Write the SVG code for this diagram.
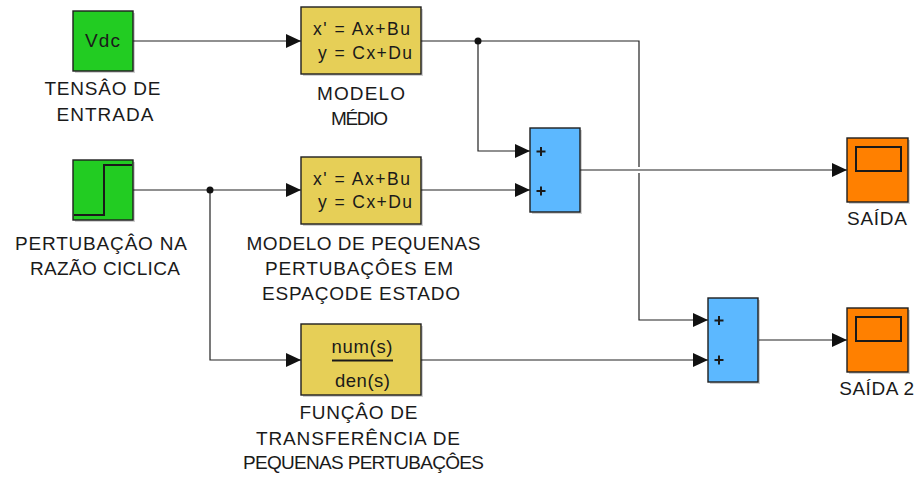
<svg xmlns="http://www.w3.org/2000/svg" width="919" height="477" viewBox="0 0 919 477">
<defs>
<style>
text{font-family:"Liberation Sans",Arial,sans-serif;fill:#1a1a1a;text-anchor:middle}
.lbl{font-size:19px}
.blk{font-size:17.5px}
.sh{fill:#000;opacity:0.18}
.bd{stroke:#1e1e1e;stroke-width:1.4}
.green{fill:#22cc22}
.yellow{fill:#e6cf57}
.blue{fill:#5cb8ff}
.orange{fill:#ff8000}
.wire{fill:none;stroke:#222;stroke-width:1.2}
.arr{marker-end:url(#ah)}
.glyph{fill:none;stroke:#1a1a1a;stroke-width:2}
</style>
<marker id="ah" markerWidth="15" markerHeight="14" refX="15" refY="7" orient="auto" markerUnits="userSpaceOnUse">
<path d="M0,0 L15,7 L0,14 Z" fill="#111"/>
</marker>
</defs>
<rect width="919" height="477" fill="#fff"/>

<g id="connectors">
<path class="wire arr" d="M133,41 H301"/>
<path class="wire" d="M421,41 H639 V167"/>
<path class="wire arr" d="M639,173 V320 H708"/>
<path class="wire arr" d="M478,41 V151 H530"/>
<path class="wire arr" d="M133,190 H301"/>
<path class="wire arr" d="M210,190 V360 H301"/>
<path class="wire arr" d="M421,190 H530"/>
<path class="wire arr" d="M580,170 H847"/>
<path class="wire arr" d="M421,360 H708"/>
<path class="wire arr" d="M759,340 H847"/>
<circle cx="478" cy="41" r="3.5" fill="#111"/>
<circle cx="210" cy="190" r="3.5" fill="#111"/>
</g>

<g id="vdc">
<rect class="sh" x="75" y="13" width="60" height="60"/>
<rect class="green bd" x="73" y="11" width="60" height="60"/>
<text class="lbl" x="102.5" y="47" textLength="35" lengthAdjust="spacing">Vdc</text>
<text class="lbl" x="102.5" y="95" textLength="116" lengthAdjust="spacing">TENSÂO DE</text>
<text class="lbl" x="105" y="120.5" textLength="97" lengthAdjust="spacing">ENTRADA</text>
</g>

<g id="step">
<rect class="sh" x="75" y="162" width="60" height="60"/>
<rect class="green bd" x="73" y="160" width="60" height="60"/>
<path class="glyph" d="M74,215 H104 V165 H132"/>
<text class="lbl" x="101" y="250" textLength="172" lengthAdjust="spacing">PERTUBAÇÂO NA</text>
<text class="lbl" x="105" y="275" textLength="150" lengthAdjust="spacing">RAZÃO CICLICA</text>
</g>

<g id="modelo-medio">
<rect class="sh" x="303" y="9" width="120" height="67"/>
<rect class="yellow bd" x="301" y="7" width="120" height="67"/>
<text class="blk" x="361.5" y="35" textLength="97" lengthAdjust="spacing">x' = Ax+Bu</text>
<text class="blk" x="365" y="58.5" textLength="94" lengthAdjust="spacing">y = Cx+Du</text>
<text class="lbl" x="361" y="100" textLength="88" lengthAdjust="spacing">MODELO</text>
<text class="lbl" x="359.5" y="125" textLength="57" lengthAdjust="spacing">MÉDIO</text>
</g>

<g id="modelo-pequenas">
<rect class="sh" x="303" y="159" width="120" height="67"/>
<rect class="yellow bd" x="301" y="157" width="120" height="67"/>
<text class="blk" x="361.5" y="184.5" textLength="97" lengthAdjust="spacing">x' = Ax+Bu</text>
<text class="blk" x="365" y="208" textLength="94" lengthAdjust="spacing">y = Cx+Du</text>
<text class="lbl" x="363.5" y="249.5" textLength="234" lengthAdjust="spacing">MODELO DE PEQUENAS</text>
<text class="lbl" x="359" y="274.5" textLength="188" lengthAdjust="spacing">PERTUBAÇÔES EM</text>
<text class="lbl" x="361" y="299.5" textLength="198" lengthAdjust="spacing">ESPAÇODE ESTADO</text>
</g>

<g id="funcao-transferencia">
<rect class="sh" x="303" y="326" width="120" height="71"/>
<rect class="yellow bd" x="301" y="324" width="120" height="71"/>
<text class="lbl" x="362" y="353" textLength="61" lengthAdjust="spacing" style="font-size:18.5px">num(s)</text>
<line x1="332" y1="360.5" x2="393" y2="360.5" stroke="#1a1a1a" stroke-width="1.8"/>
<text class="lbl" x="362.5" y="386.5" textLength="55" lengthAdjust="spacing" style="font-size:18.5px">den(s)</text>
<text class="lbl" x="358.5" y="418.5" textLength="118" lengthAdjust="spacing">FUNÇÂO DE</text>
<text class="lbl" x="358" y="444.5" textLength="204" lengthAdjust="spacing">TRANSFERÊNCIA DE</text>
<text class="lbl" x="363.5" y="469" textLength="241" lengthAdjust="spacing">PEQUENAS PERTUBAÇÔES</text>
</g>

<g id="soma1">
<rect class="sh" x="532" y="130" width="50" height="84"/>
<rect class="blue bd" x="530" y="128" width="50" height="84"/>
<path class="glyph" d="M536.5,151.5 H545.5 M541,147 V156"/>
<path class="glyph" d="M536.5,191 H545.5 M541,186.5 V195.5"/>
</g>

<g id="soma2">
<rect class="sh" x="710" y="300" width="50" height="84"/>
<rect class="blue bd" x="708" y="298" width="50" height="84"/>
<path class="glyph" d="M714.5,320.5 H723.5 M719,316 V325"/>
<path class="glyph" d="M714.5,360 H723.5 M719,355.5 V364.5"/>
</g>

<g id="saida">
<rect class="sh" x="849" y="140" width="61" height="64"/>
<rect class="orange bd" x="847" y="138" width="61" height="64"/>
<rect x="856" y="147" width="45" height="24" fill="none" stroke="#1a1a1a" stroke-width="2"/>
<text class="lbl" x="877" y="225" textLength="60" lengthAdjust="spacing">SAÍDA</text>
</g>

<g id="saida2">
<rect class="sh" x="849" y="310" width="61" height="64"/>
<rect class="orange bd" x="847" y="308" width="61" height="64"/>
<rect x="856" y="317" width="45" height="24" fill="none" stroke="#1a1a1a" stroke-width="2"/>
<text class="lbl" x="876.7" y="395" textLength="75" lengthAdjust="spacing">SAÍDA 2</text>
</g>
</svg>
